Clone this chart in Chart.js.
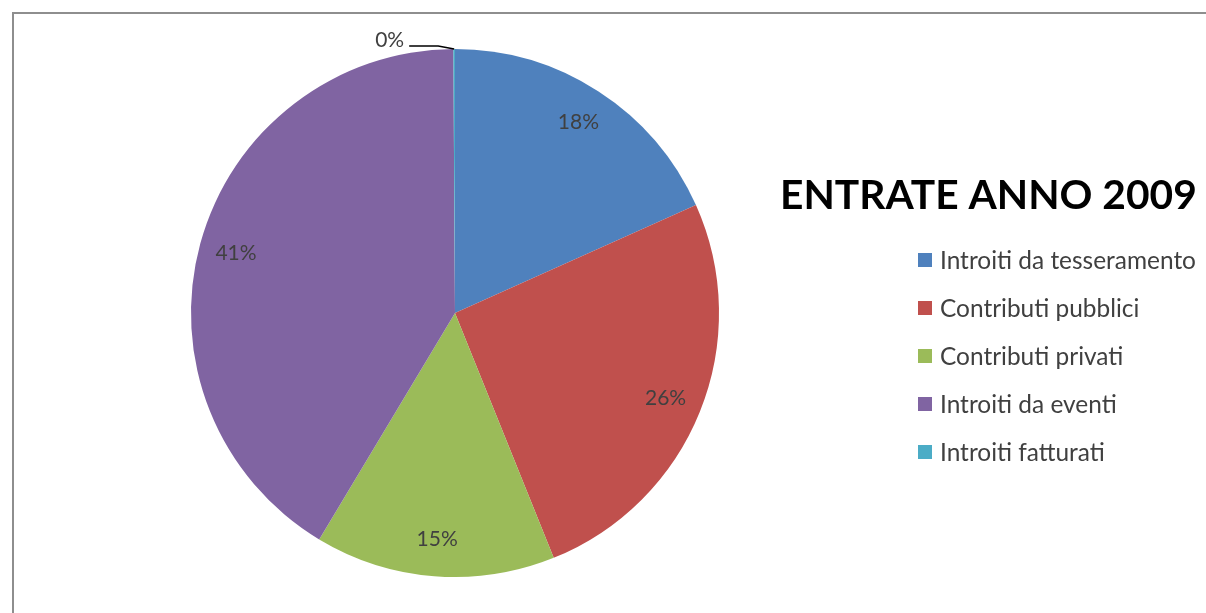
<!DOCTYPE html>
<html>
<head>
<meta charset="utf-8">
<script src="https://cdn.jsdelivr.net/npm/chart.js@4"></script>
<style>
    body { margin: 0; background: #fff; overflow: hidden; }
    #wrap { position: relative; width: 1206px; height: 613px; }
    #frame { position: absolute; left: 12px; top: 12px; width: 1300px; height: 700px;
             border-left: 2px solid #8e8e8e; border-top: 2px solid #8e8e8e; }
</style>
</head>
<body>
<div id="wrap">
    <canvas id="chart" width="1206" height="613"></canvas>
    <div id="frame"></div>
</div>
<script>
// chart data
const title = "ENTRATE ANNO 2009";
const categories = ["Introiti da tesseramento", "Contributi pubblici", "Contributi privati", "Introiti da eventi", "Introiti fatturati"];
const shares = [18.3, 25.6, 14.7, 41.3, 0.1];   // percent of total
const colors = ["#4f81bd", "#c0504d", "#9bbb59", "#8064a2", "#4bacc6"];

const FONT = "Lato, 'Open Sans', sans-serif";


///////////////////////////////////////////////////////////////////////////////
// draws percent labels, the title and the legend on the right
const decorations =
{
    id: "decorations",
    afterDraw(chart)
    {
        const ctx = chart.ctx;
        const meta = chart.getDatasetMeta(0);
        const values = chart.data.datasets[0].data;
        const total = values.reduce((a, b) => a + b, 0);

        ctx.save();
        ctx.font = "21px " + FONT;
        ctx.fillStyle = "#404040";
        ctx.textAlign = "center";
        ctx.textBaseline = "middle";

        meta.data.forEach((arc, i) =>
        {
            const p = arc.getProps(["x", "y", "startAngle", "endAngle", "outerRadius"], true);
            const mid = (p.startAngle + p.endAngle) / 2;
            const text = Math.round(values[i] / total * 100) + "%";
            const span = p.endAngle - p.startAngle;

            if(span > 0.2)
            {
                const r = p.outerRadius * 0.86;
                ctx.fillText(text, p.x + Math.cos(mid) * r, p.y + Math.sin(mid) * r);
            }
            else
            {
                // tiny slice: leader line out to the left
                const ox = p.x + Math.cos(mid) * p.outerRadius;
                const oy = p.y + Math.sin(mid) * p.outerRadius;
                ctx.strokeStyle = "#000";
                ctx.lineWidth = 1.5;
                ctx.beginPath();
                ctx.moveTo(ox, oy);
                ctx.lineTo(ox - 16, oy - 3);
                ctx.lineTo(ox - 45, oy - 3);
                ctx.stroke();
                ctx.textAlign = "right";
                ctx.fillText(text, ox - 50, oy - 9);
                ctx.textAlign = "center";
            }
        });

        // title
        ctx.fillStyle = "#000";
        ctx.textAlign = "left";
        ctx.textBaseline = "alphabetic";
        let size = 36;
        ctx.font = "bold " + size + "px " + FONT;
        size = size * 417 / ctx.measureText(title).width;
        ctx.font = "bold " + size + "px " + FONT;
        ctx.fillText(title, 780, 209);

        // legend
        ctx.font = "19px " + FONT;
        let ls = 19 * 256 / ctx.measureText(categories[0]).width;
        ctx.font = ls + "px " + FONT;
        ctx.textBaseline = "middle";
        chart.data.labels.forEach((lab, i) =>
        {
            const y = 260 + i * 48;
            ctx.fillStyle = chart.data.datasets[0].backgroundColor[i];
            ctx.fillRect(918, y - 7, 14, 14);
            ctx.fillStyle = "#404040";
            ctx.fillText(lab, 940, y + 1);
        });

        ctx.restore();
    }
};


///////////////////////////////////////////////////////////////////////////////
new Chart(document.getElementById("chart").getContext("2d"),
{
    type: "pie",
    data:
    {
        labels: categories,
        datasets:
        [{
            data: shares,
            backgroundColor: colors,
            borderWidth: 0
        }]
    },
    options:
    {
        responsive: false,
        animation: false,
        layout: { padding: { left: 191, right: 487, top: 49, bottom: 36 } },
        plugins:
        {
            legend: { display: false },
            tooltip: { enabled: false }
        }
    },
    plugins: [decorations]
});
</script>
</body>
</html>
